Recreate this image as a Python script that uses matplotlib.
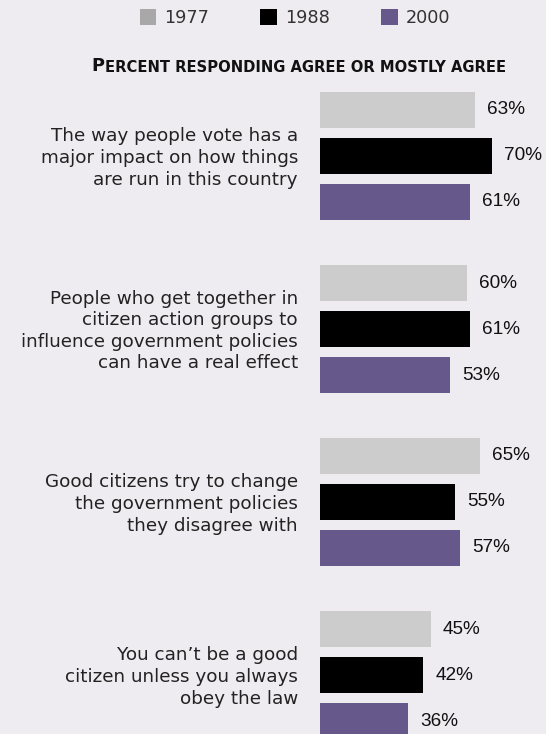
import matplotlib
matplotlib.use("Agg")
import matplotlib.pyplot as plt
from matplotlib.patches import Patch

# ---- data ----
categories = [
    "The way people vote has a\nmajor impact on how things\nare run in this country",
    "People who get together in\ncitizen action groups to\ninfluence government policies\ncan have a real effect",
    "Good citizens try to change\nthe government policies\nthey disagree with",
    "You can\u2019t be a good\ncitizen unless you always\nobey the law",
]
years = ["1977", "1988", "2000"]
values_1977 = [63, 60, 65, 45]
values_1988 = [70, 61, 55, 42]
values_2000 = [61, 53, 57, 36]
series = [values_1977, values_1988, values_2000]

# ---- styles ----
BG = "#EEECF1"
bar_colors = ["#CCCCCC", "#000000", "#66588A"]
legend_colors = ["#A8A8A8", "#000000", "#66588A"]
TEXT = "#222222"

W, H = 546, 734
fig = plt.figure(figsize=(W / 100, H / 100), dpi=100, facecolor=BG)
ax = fig.add_axes([0, 0, 1, 1])
ax.set_facecolor(BG)

px_per_pct = 2.457
x0 = 320
ax.set_xlim(-x0 / px_per_pct, (W - x0) / px_per_pct)
ax.set_ylim(H, 0)
ax.axis("off")

group_center0 = 156
group_step = 173
bar_step = 46
bar_h = 36

for gi, cat in enumerate(categories):
    gc = group_center0 + gi * group_step
    for si, vals in enumerate(series):
        y = gc + (si - 1) * bar_step
        v = vals[gi]
        ax.barh(y, v, height=bar_h, left=0, color=bar_colors[si], edgecolor="none")
        ax.annotate(f"{v}%", xy=(v, y), xytext=(8.6, 0), textcoords="offset points",
                    ha="left", va="center", fontsize=13.7, color="#111111",
                    family="Liberation Sans")
    ax.text(-22 / px_per_pct, gc + 2, cat, ha="right", va="center", fontsize=13.2,
            color=TEXT, family="DejaVu Sans", linespacing=1.26)

# header in small caps
p = fig.text(91 / W, 1 - 71 / H, "P", fontsize=12.8, color="#111111",
             family="DejaVu Sans", weight="bold", ha="left", va="baseline")
ax.annotate("ERCENT RESPONDING AGREE OR MOSTLY AGREE", xy=(1, 0), xycoords=p,
            xytext=(0.6, 0), textcoords="offset points",
            fontsize=10.6, color="#111111", family="DejaVu Sans", weight="bold",
            ha="left", va="bottom")

handles = [Patch(facecolor=c, edgecolor="none") for c in legend_colors]
fig.legend(handles, years, loc="center", bbox_to_anchor=(295 / W, 1 - 18 / H),
           ncol=3, frameon=False, handlelength=0.95, handleheight=0.95,
           handletextpad=0.45, columnspacing=2.9, labelcolor="#333333",
           prop={"family": "DejaVu Sans", "size": 12.7})

fig.savefig("out.png", dpi=100, facecolor=BG)
